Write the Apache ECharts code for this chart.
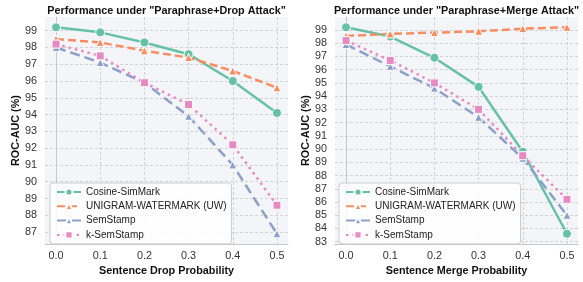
<!DOCTYPE html>
<html lang="en">
<head>
    <meta charset="UTF-8">
    <title>Paraphrase attack ROC-AUC</title>
    <script src="https://cdn.jsdelivr.net/npm/echarts@6/dist/echarts.min.js"></script>
    <style>
        html, body { margin: 0; padding: 0; background: #fff; }
        #chartmain { width: 583px; height: 282px; }
    </style>
</head>
<body>
<div id="chartmain"></div>
<script>
    // x values (probabilities)
    var probs = [0.0, 0.1, 0.2, 0.3, 0.4, 0.5];
    var methods = ['Cosine-SimMark', 'UNIGRAM-WATERMARK (UW)', 'SemStamp', 'k-SemStamp'];

    // Paraphrase + Drop
    var dropCosine = [99.2, 98.9, 98.3, 97.6, 96.0, 94.1];
    var dropUW     = [98.5, 98.3, 97.8, 97.4, 96.6, 95.6];
    var dropSem    = [98.0, 97.1, 95.9, 93.9, 91.0, 86.9];
    var dropKSem   = [98.2, 97.5, 95.9, 94.6, 92.2, 88.6];

    // Paraphrase + Merge
    var mergeCosine = [99.2, 98.5, 96.9, 94.7, 89.8, 83.6];
    var mergeUW     = [98.55, 98.7, 98.8, 98.9, 99.1, 99.2];
    var mergeSem    = [97.9, 96.25, 94.6, 92.4, 89.3, 85.0];
    var mergeKSem   = [98.2, 96.7, 95.0, 93.0, 89.5, 86.2];

    var xTicks = [0.0, 0.1, 0.2, 0.3, 0.4, 0.5];
    var dropYTicks = [87, 88, 89, 90, 91, 92, 93, 94, 95, 96, 97, 98, 99];
    var mergeYTicks = [83, 84, 85, 86, 87, 88, 89, 90, 91, 92, 93, 94, 95, 96, 97, 98, 99];

    var colors = ['#66c2a5', '#fc8d62', '#8da0cb', '#e78ac3'];
    var symbols = ['circle', 'triangle', 'triangle', 'rect'];
    var sizes = [9, 8, 8, 8];
    var dashes = ['solid', [8, 4], [10, 5], [2.5, 4]];
    var FONT = '"Liberation Sans", Arial, sans-serif';

    function pairs(vals) {
        return vals.map(function (v, i) { return [probs[i], v]; });
    }

    function mkSeries(k, vals, idx) {
        return {
            name: methods[k],
            type: 'line',
            xAxisIndex: idx,
            yAxisIndex: idx,
            data: pairs(vals),
            symbol: symbols[k],
            symbolSize: sizes[k],
            color: colors[k],
            lineStyle: { width: 2.5, type: dashes[k], color: colors[k] },
            itemStyle: { color: colors[k], borderColor: '#fff', borderWidth: 1 },
            emphasis: { disabled: true },
            animation: false
        };
    }

    function xAx(idx, name) {
        return {
            type: 'value', gridIndex: idx, min: -0.025, max: 0.525,
            name: name, nameLocation: 'middle', nameGap: 19,
            nameTextStyle: { fontFamily: FONT, fontSize: 10.8, fontWeight: 'bold', color: '#111' },
            axisLine: { show: true, lineStyle: { color: '#c8c8c8', width: 1 } },
            axisTick: { show: false, customValues: xTicks },
            axisLabel: { customValues: xTicks, margin: 6, fontFamily: FONT, fontSize: 10.8, color: '#333',
                formatter: function (v) { return v.toFixed(1); } },
            splitLine: { show: true, lineStyle: { color: '#cacaca', type: [3, 2], width: 0.8 } }
        };
    }

    function yAx(idx, mn, mx, ticks) {
        return {
            type: 'value', gridIndex: idx, min: mn, max: mx,
            name: 'ROC-AUC (%)', nameLocation: 'middle', nameGap: 21,
            nameTextStyle: { fontFamily: FONT, fontSize: 10.8, fontWeight: 'bold', color: '#111' },
            axisLine: { show: true, lineStyle: { color: '#c8c8c8', width: 1 } },
            axisTick: { show: false, customValues: ticks },
            axisLabel: { customValues: ticks, margin: 8, fontFamily: FONT, fontSize: 10.8, color: '#333' },
            splitLine: { show: true, lineStyle: { color: '#cacaca', type: [3, 2], width: 0.8 } }
        };
    }

    function mkLegend(left) {
        return {
            orient: 'vertical', left: left, top: 183,
            data: methods, itemWidth: 24, itemHeight: 9, itemGap: 2.3,
            padding: [3, 5, 3, 6],
            backgroundColor: 'rgba(255,255,255,0.85)', borderColor: '#cccccc', borderWidth: 1, borderRadius: 3,
            textStyle: { fontFamily: FONT, fontSize: 10, color: '#222', lineHeight: 12 },
            selectedMode: false
        };
    }

    var option = {
        backgroundColor: '#ffffff',
        animation: false,
        title: [
            { text: 'Performance under "Paraphrase+Drop Attack"', left: 166.5, top: 6, textAlign: 'center', padding: 0,
              textStyle: { fontFamily: FONT, fontSize: 10.8, fontWeight: 'bold', color: '#111' } },
            { text: 'Performance under "Paraphrase+Merge Attack"', left: 456.5, top: 6, textAlign: 'center', padding: 0,
              textStyle: { fontFamily: FONT, fontSize: 10.8, fontWeight: 'bold', color: '#111' } }
        ],
        grid: [
            { left: 45, top: 17, width: 243, height: 232, show: true, backgroundColor: '#f4f5f9', borderWidth: 0 },
            { left: 335, top: 17, width: 243, height: 232, show: true, backgroundColor: '#f4f5f9', borderWidth: 0 }
        ],
        legend: [mkLegend(50), mkLegend(339)],
        xAxis: [xAx(0, 'Sentence Drop Probability'), xAx(1, 'Sentence Merge Probability')],
        yAxis: [yAx(0, 86.285, 99.815, dropYTicks), yAx(1, 82.82, 99.98, mergeYTicks)],
        series: [
            mkSeries(0, dropCosine, 0), mkSeries(1, dropUW, 0), mkSeries(2, dropSem, 0), mkSeries(3, dropKSem, 0),
            mkSeries(0, mergeCosine, 1), mkSeries(1, mergeUW, 1), mkSeries(2, mergeSem, 1), mkSeries(3, mergeKSem, 1)
        ]
    };

    var myChart = echarts.init(document.getElementById('chartmain'));
    myChart.setOption(option);
</script>
</body>
</html>
